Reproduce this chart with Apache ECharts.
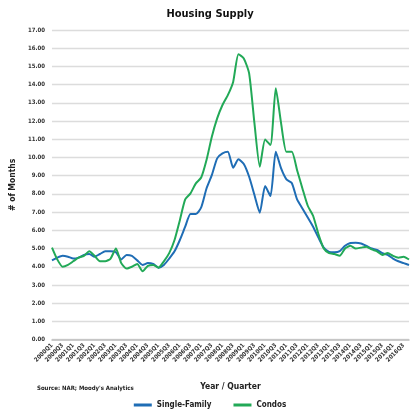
<!DOCTYPE html>
<html><head><meta charset="utf-8">
<script src="https://cdn.jsdelivr.net/npm/echarts@6/dist/echarts.min.js"></script>
<style>html,body{margin:0;padding:0;background:#fff}#c{width:420px;height:420px}</style>
</head><body><div id="c"></div>
<script>
var quarters = [];
for (var y = 2000; y <= 2016; y++) { for (var q = 1; q <= 4; q++) quarters.push(y + 'Q' + q); }
var singleFamily = [4.35,4.5,4.6,4.55,4.45,4.5,4.65,4.7,4.55,4.7,4.85,4.85,4.8,4.4,4.65,4.6,4.35,4.1,4.2,4.15,
  3.95,4.1,4.45,4.85,5.47,6.2,6.89,6.89,7.26,8.3,9.03,9.95,10.22,10.31,9.44,9.9,9.64,8.94,7.94,6.97,
  8.43,7.88,10.31,9.4,8.8,8.6,7.7,7.2,6.7,6.2,5.6,5.05,4.82,4.8,4.86,5.15,5.3,5.32,5.28,5.15,
  5.0,4.92,4.75,4.65,4.45,4.3,4.2,4.1];
var condos = [5.05,4.4,4.0,4.1,4.3,4.5,4.6,4.85,4.6,4.3,4.3,4.45,5.0,4.2,3.9,4.0,4.15,3.75,4.05,4.1,
  3.95,4.3,4.75,5.47,6.56,7.7,8.03,8.58,8.9,9.86,11.14,12.15,12.88,13.42,14.15,15.67,15.44,14.62,11.87,9.49,
  10.99,10.68,13.8,11.87,10.31,10.31,9.3,8.3,7.35,6.8,5.8,5.0,4.75,4.7,4.6,5.0,5.15,5.0,5.05,5.1,
  4.95,4.85,4.65,4.75,4.6,4.5,4.55,4.4];
var yTicks = {min: 0, max: 17, interval: 1};
var FONT = "'DejaVu Sans Condensed','Liberation Sans Narrow','Liberation Sans',sans-serif";
var chart = echarts.init(document.getElementById('c'));
chart.setOption({
  animation: false,
  textStyle: {fontFamily: FONT},
  title: [
    {text: 'Housing Supply', left: 'center', top: 4, textStyle: {fontSize: 11, fontWeight: 'bold', color: '#111', fontFamily: FONT}},
    {text: "Source: NAR; Moody's Analytics", left: 32, top: 380, textStyle: {fontSize: 6, fontWeight: 'bold', color: '#222', fontFamily: FONT}}
  ],
  grid: {left: 43, right: 11, top: 30, bottom: 80.4, containLabel: false},
  legend: {
    bottom: 6, left: 'center', icon: 'rect', itemWidth: 18, itemHeight: 3, itemGap: 22,
    textStyle: {fontSize: 8, fontWeight: 'bold', color: '#222', fontFamily: FONT},
    data: ['Single-Family', 'Condos']
  },
  xAxis: {
    type: 'category', data: quarters, boundaryGap: false,
    name: 'Year / Quarter', nameLocation: 'middle', nameGap: 43,
    nameTextStyle: {fontSize: 8.5, fontWeight: 'bold', color: '#222', fontFamily: FONT},
    axisLine: {lineStyle: {color: '#bfbfbf', width: 1.5}},
    axisTick: {show: false},
    axisLabel: {interval: 1, rotate: 45, fontSize: 6, fontWeight: 'bold', color: '#333', margin: 5, fontFamily: FONT},
    splitLine: {show: false}
  },
  yAxis: {
    type: 'value', min: yTicks.min, max: yTicks.max, interval: yTicks.interval,
    name: '# of Months', nameLocation: 'middle', nameGap: 32, nameRotate: 90,
    nameTextStyle: {fontSize: 8.5, fontWeight: 'bold', color: '#222', fontFamily: FONT},
    axisLine: {show: false}, axisTick: {show: false},
    axisLabel: {fontSize: 6, fontWeight: 'bold', color: '#333', margin: 7, fontFamily: FONT,
      formatter: function (v) { return v.toFixed(2); }},
    splitLine: {lineStyle: {color: '#dcdcdc', width: 1.3}}
  },
  series: [
    {name: 'Single-Family', type: 'line', data: singleFamily, symbol: 'none', smooth: 0.2,
      lineStyle: {color: '#1f6db5', width: 2}, itemStyle: {color: '#1f6db5'}},
    {name: 'Condos', type: 'line', data: condos, symbol: 'none', smooth: 0.2,
      lineStyle: {color: '#22a957', width: 2}, itemStyle: {color: '#22a957'}}
  ]
});
</script></body></html>
